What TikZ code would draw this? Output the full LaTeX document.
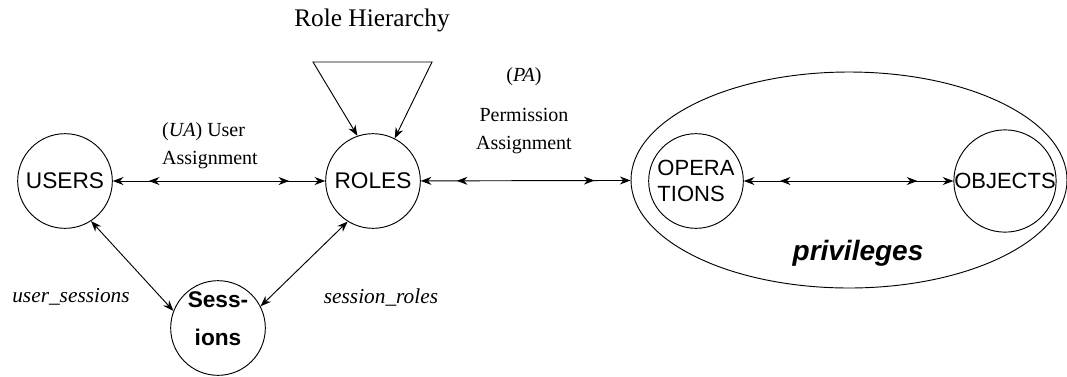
\documentclass[tikz,border=0pt]{standalone}
\usepackage{fontspec}
\setmainfont{Liberation Serif}
\setsansfont{Liberation Sans}
\usetikzlibrary{arrows.meta,shapes.geometric,decorations.markings}

\tikzset{
  ent/.style={draw, circle, minimum size=71pt, inner sep=0pt,
    font=\sffamily\fontsize{17}{19}\selectfont},
  lbl/.style={font=\fontsize{15}{21}\selectfont, inner sep=1pt},
  rel/.style={font=\itshape\fontsize{16}{18}\selectfont, inner sep=1pt},
  twoway/.style={<->, postaction={decorate},
    decoration={markings,
      mark=at position 27pt with {\arrowreversed{>}},
      mark=at position -27pt with {\arrow{>}}}},
}

\begin{document}
\begin{tikzpicture}[x=0.75pt, y=-0.75pt, line width=0.7pt,
    >={Stealth[length=8pt,width=6pt]}]
  \useasboundingbox (0,0) rectangle (1067,376);

  %% privileges
  \node[draw, ellipse, minimum width=327pt, minimum height=162pt, inner sep=0pt] (privs) at (849,180) {};
  \node[font=\sffamily\bfseries\itshape\fontsize{21}{24}\selectfont] (priv) at (858,253) {privileges};

  %% entities
  \node[ent] (users) at (65,181) {USERS};
  \node[ent] (roles) at (373,181) {ROLES};
  \node[ent, align=center, text depth=14pt, font=\sffamily\bfseries\fontsize{17}{28}\selectfont] (sess) at (218,328) {Sess-\\ions};
  \node[ent, align=left, font=\sffamily\fontsize{16.5}{19}\selectfont] (ops) at (696,181) {OPERA\\TIONS};
  \node[ent, font=\sffamily\fontsize{16.5}{19}\selectfont] (objs) at (1005,181) {OBJECTS};

  %% role hierarchy
  \coordinate (rhl) at (313,62);
  \coordinate (rhr) at (432,62);
  \draw[<->] (roles.109) -- (rhl) -- (rhr) -- (roles.63);
  \node[font=\fontsize{19}{21}\selectfont] (rh) at (372,20) {Role Hierarchy};

  %% assignments
  \draw[twoway] (users) -- (roles);
  \draw[twoway] (roles) -- (privs);
  \draw[twoway] (ops) -- (objs);
  \draw[<->] (users.-57) -- (sess.159);
  \draw[<->] (roles.-122) -- (sess.27);

  %% labels
  \node[lbl, align=left] (ua) at (210,146) {(\textit{UA}) User\\Assignment};
  \node[lbl] (pa) at (524,77) {(\textit{PA})};
  \node[lbl, align=center] (perm) at (524,131) {Permission\\Assignment};
  \node[rel] (us) at (71,297) {user\_sessions};
  \node[rel] (sr) at (381,297) {session\_roles};

\end{tikzpicture}
\end{document}
